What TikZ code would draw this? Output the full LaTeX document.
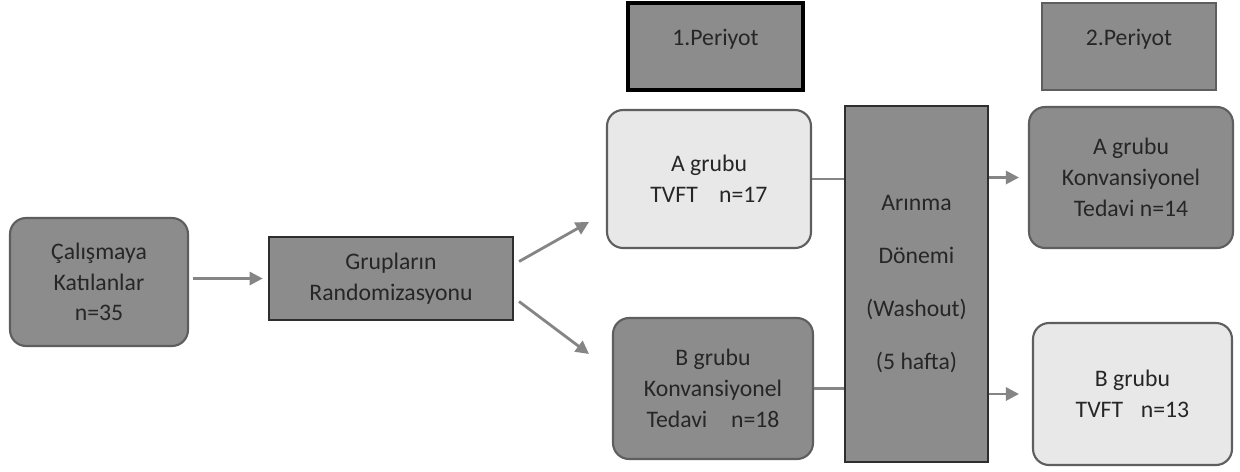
\documentclass[tikz,border=0pt]{standalone}
\usepackage{fontspec}
\setmainfont{Carlito}
\usetikzlibrary{arrows.meta,calc}

\definecolor{boxgray}{HTML}{8C8C8C}
\definecolor{boxlight}{HTML}{E8E8E8}
\definecolor{edgegray}{HTML}{5E5E5E}
\definecolor{edgedark}{HTML}{2E2E2E}
\definecolor{textgray}{HTML}{262626}
\definecolor{arrowgray}{HTML}{858585}

\begin{document}
\begin{tikzpicture}[
    x=0.02cm, y=-0.02cm,
    every node/.style={align=center, font=\fontsize{13.5}{17.5}\selectfont, text=textgray},
    round box/.style={draw=edgegray, line width=1.2pt, fill=boxgray, rounded corners=0.32cm},
    light box/.style={round box, fill=boxlight},
    flat box/.style={draw=edgedark, line width=1.2pt, fill=boxgray},
    period box/.style={flat box, text depth=0.36cm, minimum height=1.74cm},
    gray arrow/.style={draw=arrowgray, line width=1.6pt, -{Triangle[length=7.5pt,width=7.5pt]}},
    gray line/.style={draw=arrowgray, line width=1.6pt},
    ]
\useasboundingbox[fill=white] (0,0) rectangle (1240,471);
% left side
\node[round box, minimum width=3.56cm, minimum height=2.56cm] (katilan) at (99,282) {Çalışmaya\\Katılanlar\\n=35};
\node[flat box, minimum width=4.88cm, minimum height=1.66cm] (random) at (391,278.5) {Grupların\\Randomizasyonu};
% period headers
\node[period box, draw=black, line width=1.8pt, minimum width=3.5cm] (per1) at (715.5,46.5) {1.Periyot};
\node[period box, draw=edgegray, minimum width=3.48cm] (per2) at (1129,46.5) {2.Periyot};
% first period groups
\node[light box, minimum width=4.08cm, minimum height=2.76cm] (A1) at (709,179) {A grubu\\TVFT\hspace{0.9em}n=17};
\node[round box, minimum width=4.0cm, minimum height=2.82cm] (B1) at (713,388.5) {B grubu\\Konvansiyonel\\Tedavi\hspace{1em}n=18};
% washout
\node[flat box, minimum width=2.86cm, minimum height=7.12cm] (wash) at (916.5,284) {Arınma\\[12.5pt]Dönemi\\[12.5pt](Washout)\\[12.5pt](5 hafta)};
% second period groups
\node[round box, minimum width=4.08cm, minimum height=2.82cm] (A2) at (1131,177.5) {A grubu\\Konvansiyonel\\Tedavi n=14};
\node[light box, minimum width=3.98cm, minimum height=2.84cm] (B2) at (1132.5,394) {B grubu\\TVFT\hspace{0.75em}n=13};
% connectors
\coordinate (toA) at (589,222);
\coordinate (toB) at (589,354);
\draw[gray arrow, shorten <=2pt, shorten >=3pt] (katilan.east |- random.west) -- (random.west);
\draw[gray arrow] ($(random.east)+(5,-17)$) -- (toA);
\draw[gray arrow] ($(random.east)+(5,23)$) -- (toB);
\draw[gray line] (A1.east) -- (A1.east -| wash.west);
\draw[gray line] (B1.east) -- (B1.east -| wash.west);
\draw[gray arrow, shorten >=0.18cm] (wash.east |- A2.west) -- (A2.west);
\draw[gray arrow, shorten >=0.26cm] (wash.east |- B2.west) -- (B2.west);
\end{tikzpicture}
\end{document}
